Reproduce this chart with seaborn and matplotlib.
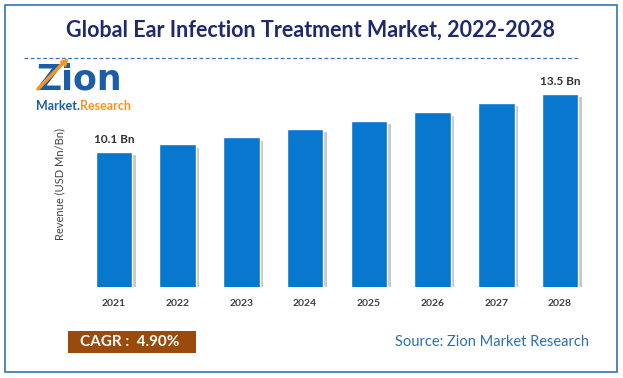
import pandas as pd
import matplotlib
matplotlib.use("Agg")
import matplotlib.pyplot as plt
import matplotlib.patheffects as pe
from matplotlib.patches import Rectangle
from matplotlib.lines import Line2D
import seaborn as sns

# data
years = ["2021", "2022", "2023", "2024", "2025", "2026", "2027", "2028"]
revenue = [10.1, 10.52, 10.95, 11.43, 11.92, 12.41, 12.96, 13.5]
label_years = ["2021", "2028"]
label_text = ["10.1 Bn", "13.5 Bn"]

title = "Global Ear Infection Treatment Market, 2022-2028"
ylabel = "Revenue (USD Mn/Bn)"
cagr = "CAGR :  4.90%"
source = "Source: Zion Market Research"

sns.set_style("white")
plt.rcParams['font.family'] = ['Lato', 'DejaVu Sans']

W, H = 623, 378
fig = plt.figure(figsize=(W / 100, H / 100), dpi=100)

def fx(x):
    return x / W

def fy(y):
    return 1 - y / H

df = pd.DataFrame({"Year": years, "Revenue": revenue})

ax = fig.add_axes([fx(82), fy(287), fx(592) - fx(82), fy(80) - fy(287)])
sns.barplot(data=df, x="Year", y="Revenue", color="#0877CE", width=0.57,
            saturation=1, ax=ax)
for p in ax.patches:
    p.set_path_effects([pe.SimplePatchShadow(offset=(2.5, -2.5), shadow_rgbFace="#888888", alpha=0.45),
                        pe.Normal()])

ax.set_ylim(2.18, 14.29)
ax.set_yticks([])
ax.set_xlabel("")
ax.set_ylabel(ylabel, fontsize=8, color="#444444", labelpad=12)
for s in ax.spines.values():
    s.set_visible(False)
ax.tick_params(axis="x", length=0, pad=9)
for t in ax.get_xticklabels():
    t.set_fontsize(7.5)
    t.set_fontweight("bold")
    t.set_color("#404040")

for yr, txt in zip(label_years, label_text):
    i = years.index(yr)
    ax.text(i, revenue[i] + 0.4, txt, ha="center", va="bottom",
            fontsize=8.5, fontweight="bold", color="#333333")

# border
fig.patches.append(Rectangle((fx(5), fy(372)), fx(617) - fx(5), fy(5) - fy(372),
                             transform=fig.transFigure, fill=False,
                             edgecolor="#2E75B6", linewidth=1.2))

# title and dashed rule
fig.text(fx(311), fy(30), title, ha="center", va="center", fontsize=15.5,
         fontweight="bold", color="#1F2A6E")
fig.lines.append(Line2D([fx(24), fx(578)], [fy(57.5), fy(57.5)], transform=fig.transFigure,
                        color="#3F72B5", linewidth=0.9, linestyle=(0, (3, 2))))

# logo
fig.text(fx(37), fy(90), "Zion", fontsize=25, fontweight="bold", color="#1B5DA8",
         va="baseline", ha="left", family="DejaVu Sans")
fig.lines.append(Line2D([fx(38), fx(64)], [fy(89), fy(62)], transform=fig.transFigure,
                        color="#F7941D", linewidth=2.5, zorder=5,
                        solid_capstyle="round"))
fig.lines.append(Line2D([fx(64)], [fy(62)], transform=fig.transFigure, marker=(3, 0, -45),
                        markersize=6, color="#F7941D", zorder=5))
mk = fig.text(fx(36), fy(110), "Market.", fontsize=9, fontweight="bold", color="#1B5DA8",
              va="baseline", ha="left")
fig.canvas.draw()
mk_right = mk.get_window_extent().x1
fig.text(mk_right / W, fy(110), "Research", fontsize=9, fontweight="bold",
         color="#F7941D", va="baseline", ha="left")

# CAGR box and source
fig.patches.append(Rectangle((fx(68), fy(353)), fx(196) - fx(68), fy(331) - fy(353),
                             transform=fig.transFigure, facecolor="#9A4A0B",
                             edgecolor="none"))
fig.text(fx(130), fy(342.5), cagr, ha="center", va="center", fontsize=11,
         fontweight="bold", color="white")
fig.text(fx(589), fy(342), source, ha="right", va="center", fontsize=10.5,
         color="#2E6DB4")

fig.savefig("out.png", dpi=100)
